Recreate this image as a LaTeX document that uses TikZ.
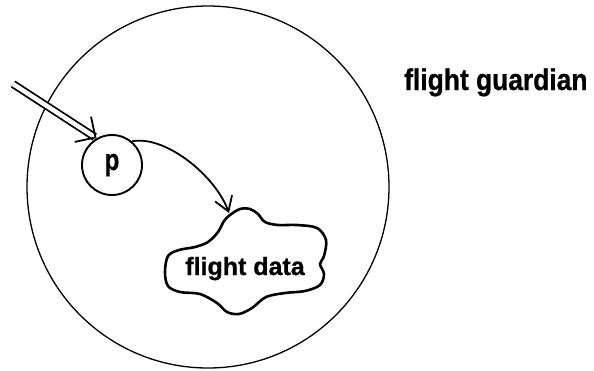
\documentclass[tikz,border=0pt]{standalone}
\usepackage{fontspec}
\usepackage{graphicx}
\setmainfont{Liberation Sans}
\newfontfamily\heavyfont[FakeBold=0.8]{Liberation Sans Bold}
\usetikzlibrary{arrows.meta,positioning}

\begin{document}
\begin{tikzpicture}[
    x=1pt, y=-1pt,
    barb/.style={-{Straight Barb[length=15pt, width=30pt, line width=1.8pt]}},
    flow/.style={-{Straight Barb[length=14pt, width=18pt, line width=1.8pt]}, line width=1.8pt},
    label/.style={inner sep=0pt},
    proc/.style={circle, draw, line width=1.9pt, minimum size=60pt, inner sep=0pt}
]
\useasboundingbox (0,0) rectangle (594,370);

% Guardian boundary
\draw[line width=1.3pt] (208,187) circle [radius=181];
\node[label, anchor=base west, font=\fontsize{30}{32}\heavyfont] (fg) at (404,90)
    {\scalebox{0.88}[1]{flight guardian}};

% Process p
\node[proc, font=\fontsize{30}{32}\heavyfont] (p) at (112,165) {\scalebox{0.8}[1]{p}};

% Flight data store (blob)
\draw[line width=2.6pt] plot[smooth cycle, tension=0.55] coordinates {
    (230,215) (240,209) (250,209) (258,214) (265,222) (278,225)
    (297,225) (317,228) (326,240) (324,256) (320,264) (324,274)
    (320,285) (305,291) (285,293) (266,297) (252,308) (239,314)
    (227,312) (217,303) (200,294) (180,292) (168,286) (165,272)
    (168,256) (179,250) (195,247) (208,242) (218,232) (224,221)};
\node[label, anchor=base, font=\fontsize{25}{27}\heavyfont] (fd) at (245,275) {flight data};
\coordinate (fdtop) at (229,213);

% Incoming message (double arrow)
\coordinate (src) at (13,84);
\draw[barb, line width=1.8pt, double, double distance=4.5pt] (src) -- (p.120);

% Store
\draw[flow] (p.50) .. controls (165,135) and (215,175) .. (fdtop);

\end{tikzpicture}
\end{document}
